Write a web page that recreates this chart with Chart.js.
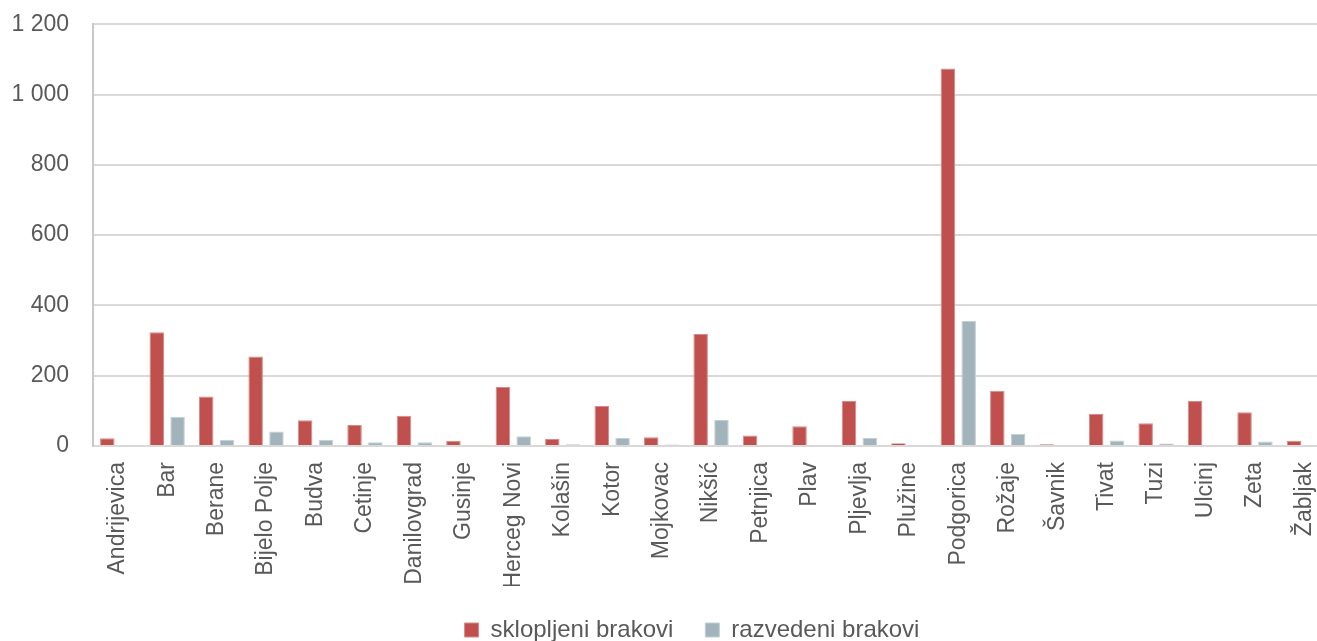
<!DOCTYPE html>
<html>
<head>
<meta charset="utf-8">
<script src="https://cdn.jsdelivr.net/npm/chart.js@4"></script>
<style>
  html, body { margin: 0; padding: 0; background: #fff; overflow: hidden; }
  #c { display: block; }
</style>
</head>
<body>
<canvas id="c" width="1348" height="641" style="width:1348px;height:641px"></canvas>
<script>
const categories = ['Andrijevica','Bar','Berane','Bijelo Polje','Budva','Cetinje','Danilovgrad','Gusinje','Herceg Novi','Kolašin','Kotor','Mojkovac','Nikšić','Petnjica','Plav','Pljevlja','Plužine','Podgorica','Rožaje','Šavnik','Tivat','Tuzi','Ulcinj','Zeta','Žabljak'];
const sklopljeni = [22, 324, 141, 255, 73, 60, 86, 15, 168, 20, 114, 25, 319, 30, 56, 128, 8, 1074, 157, 5, 91, 65, 128, 96, 15];
const razvedeni = [0, 83, 18, 41, 18, 11, 11, 0, 28, 5, 23, 4, 74, 0, 0, 23, 2, 356, 34, 0, 16, 7, 0, 13, 0];
const seriesNames = ['sklopljeni brakovi', 'razvedeni brakovi'];
const yTicks = [0, 200, 400, 600, 800, 1000, 1200];

const FONT = "'Liberation Sans', Arial, sans-serif";
const fmt = v => String(v).replace(/\B(?=(\d{3})+(?!\d))/g, ' ');

const legendShift = {
  id: 'legendShift',
  afterLayout(chart) {
    const lg = chart.legend;
    if (lg) { lg.left += 18; lg.right += 18; }
  }
};

new Chart(document.getElementById('c'), {
  type: 'bar',
  data: {
    labels: categories,
    datasets: [
      { label: seriesNames[0], data: sklopljeni, backgroundColor: '#C0504D', borderColor: '#D98A88', borderWidth: 1,
        categoryPercentage: 0.842, barPercentage: 0.697 },
      { label: seriesNames[1], data: razvedeni, backgroundColor: '#A2B4BB', borderColor: '#C2CFD4', borderWidth: 1,
        categoryPercentage: 0.842, barPercentage: 0.697 }
    ]
  },
  plugins: [legendShift],
  options: {
    responsive: false,
    animation: false,
    devicePixelRatio: 1,
    layout: { padding: { left: 0, right: 0, top: 0, bottom: -11 } },
    plugins: {
      tooltip: { enabled: false },
      legend: {
        position: 'bottom',
        labels: {
          font: { family: FONT, size: 24 },
          color: '#595959',
          boxWidth: 14, boxHeight: 14,
          padding: 32
        }
      }
    },
    scales: {
      x: {
        grid: { display: false, drawTicks: false },
        border: { display: false },
        ticks: {
          minRotation: 90, maxRotation: 90, autoSkip: false, padding: 16,
          font: { family: FONT, size: 23 },
          color: '#595959'
        },
        afterFit: s => { s.height = 140; }
      },
      y: {
        min: 0, max: 1200,
        afterBuildTicks: s => { s.ticks = yTicks.map(v => ({ value: v })); },
        afterFit: s => { s.width = 93; s.paddingTop = 24.3; },
        grid: { color: '#D9D9D9', lineWidth: 2, drawTicks: false },
        border: { display: true, color: '#C8C8C8', width: 2 },
        ticks: {
          padding: 24,
          font: { family: FONT, size: 23 },
          color: '#595959',
          callback: v => fmt(v)
        }
      }
    }
  }
});
</script>
</body>
</html>
